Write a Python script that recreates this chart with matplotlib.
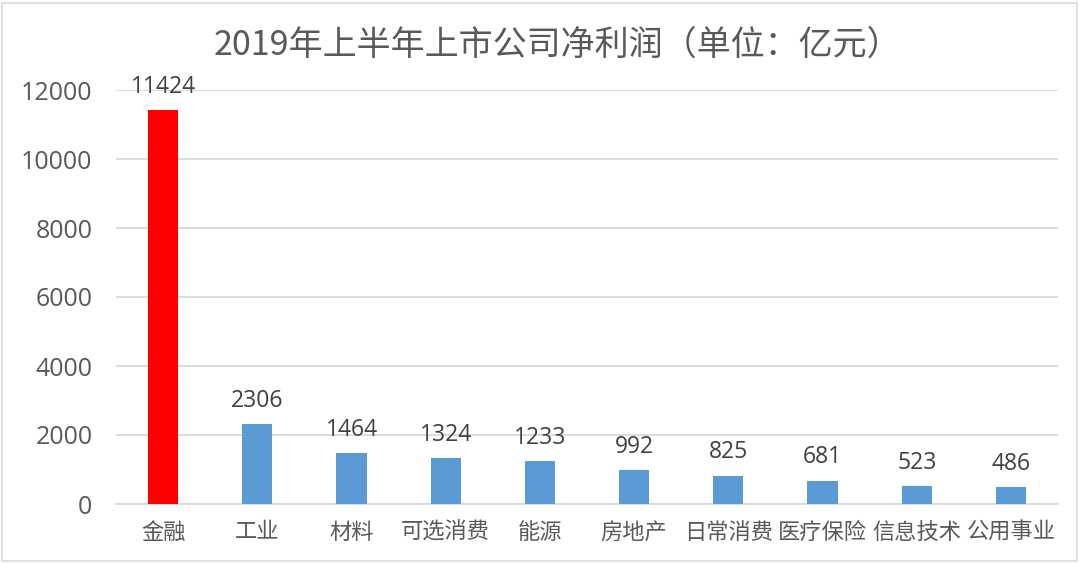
import matplotlib
matplotlib.use("Agg")
import matplotlib.pyplot as plt
from matplotlib.patches import Rectangle

plt.rcParams['font.family'] = ['Noto Sans CJK SC', 'DejaVu Sans']

categories = ["金融", "工业", "材料", "可选消费", "能源", "房地产", "日常消费", "医疗保险", "信息技术", "公用事业"]
values = [11424, 2306, 1464, 1324, 1233, 992, 825, 681, 523, 486]
bar_colors = ["#FF0000"] + ["#5B9BD5"] * 9
yticks = [0, 2000, 4000, 6000, 8000, 10000, 12000]
title = "2019年上半年上市公司净利润（单位：亿元）"

txt = "#595959"
num_font = ['Open Sans', 'Noto Sans CJK SC']
fig = plt.figure(figsize=(10.8, 5.63), dpi=100)
ax = fig.add_axes([116/1080, 59/563, 942/1080, 414/563])

x = range(len(categories))
bars = ax.bar(x, values, width=0.32, color=bar_colors, zorder=3)
for xi, v in zip(x, values):
    ax.annotate(str(v), (xi, v), xytext=(0, 8), textcoords="offset points",
                ha="center", va="bottom", fontsize=16.5, color="#404040", family=num_font)

ax.set_xlim(-0.5, len(categories) - 0.5)
ax.set_ylim(0, 12000)
ax.set_yticks(yticks)
ax.set_yticklabels([str(t) for t in yticks], fontsize=18, color=txt, family=num_font)
ax.set_xticks(list(x))
ax.set_xticklabels(categories, fontsize=16, color=txt)
ax.tick_params(axis="y", length=0, pad=17)
ax.tick_params(axis="x", length=0, pad=12)
ax.grid(axis="y", color="#D9D9D9", linewidth=1.3, zorder=0)
for s in ["top", "right", "left"]:
    ax.spines[s].set_visible(False)
ax.spines["bottom"].set_color("#D9D9D9")
ax.spines["bottom"].set_linewidth(1.3)

fig.text(0.5 + 17/1080, 1 - 45/563, title, ha="center", va="center", fontsize=24.5, color=txt,
         family=['Noto Sans CJK SC', 'DejaVu Sans'])

fig.patches.append(Rectangle((2/1080, 2/563), 1 - 5/1080, 1 - 5/563, transform=fig.transFigure,
                             fill=False, edgecolor="#D9D9D9", linewidth=1.2))

fig.savefig("out.png", dpi=100)
